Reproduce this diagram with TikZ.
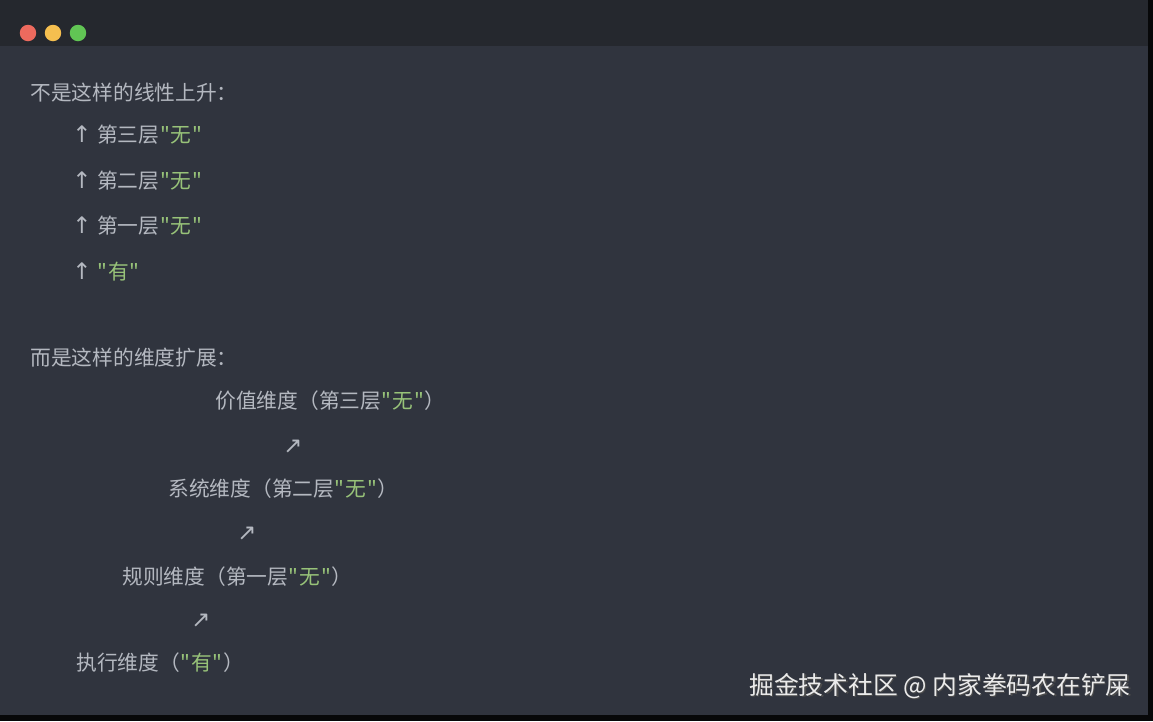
\documentclass[tikz,border=0pt]{standalone}
\usepackage{fontspec}
\newfontfamily\cjk{Noto Sans CJK SC}
\newfontfamily\symb{DejaVu Sans}
\usetikzlibrary{positioning}

\definecolor{barbg}{HTML}{25282E}
\definecolor{bodybg}{HTML}{30343E}
\definecolor{codegray}{HTML}{B4B8C0}
\definecolor{codegreen}{HTML}{98C379}
\definecolor{dotred}{HTML}{ED6A5E}
\definecolor{dotyellow}{HTML}{F5BF4F}
\definecolor{dotgreen}{HTML}{61C554}

\newcommand{\q}{\makebox[0.55em]{"}}
\newcommand{\str}[1]{\textcolor{codegreen}{\q#1\q}}
\newcommand{\up}{{\symb\fontsize{13pt}{15pt}\selectfont ↑}\hspace{0.27em}}

\tikzset{
  txt/.style={anchor=west, text=codegray, inner sep=0pt,
    font=\cjk\fontsize{11.8pt}{14pt}\selectfont},
  diag/.style={text=codegray, inner sep=0pt,
    font=\symb\fontsize{13pt}{15pt}\selectfont},
  winbtn/.style={circle, minimum size=0.33cm, inner sep=0pt}
}

\begin{document}
\begin{tikzpicture}[x=0.02cm, y=-0.02cm]
  % window
  \fill[black!85!bodybg] (0,0) rectangle (1153,721);
  \fill[bodybg] (0,0) rectangle (1148,715);
  \fill[barbg] (0,0) rectangle (1148,46);
  \useasboundingbox (0,0) rectangle (1153,721);

  \node[winbtn, fill=dotred]    (red)    at (28,33) {};
  \node[winbtn, fill=dotyellow] (yellow) at (53,33) {};
  \node[winbtn, fill=dotgreen]  (green)  at (78,33) {};

  % linear
  \node[txt] (title) at (30,93) {不是这样的线性上升：};
  \node[txt] (l3) at (72,135) {\up 第三层\str{无}};
  \node[txt] (l2) at (72,181) {\up 第二层\str{无}};
  \node[txt] (l1) at (72,226) {\up 第一层\str{无}};
  \node[txt] (l0) at (72,272) {\up \str{有}};

  % dimensions
  \node[txt] (title2) at (30,358) {而是这样的维度扩展：};
  \node[txt] (v3) at (215,401) {价值维度（第三层\str{无}）};
  \node[diag] (a3) at (293,447) {↗};
  \node[txt] (v2) at (168,489) {系统维度（第二层\str{无}）};
  \node[diag] (a2) at (247,534) {↗};
  \node[txt] (v1) at (122,577) {规则维度（第一层\str{无}）};
  \node[diag] (a1) at (201,621) {↗};
  \node[txt] (v0) at (76,663) {执行维度（\str{有}）};

  % watermark
  \node[anchor=east, text=black!70, inner sep=0pt,
    font=\cjk\fontsize{14.1pt}{16pt}\selectfont] at (1132.5,687.5) {掘金技术社区 @ 内家拳码农在铲屎};
  \node[anchor=east, text=white!92!black, inner sep=0pt,
    font=\cjk\fontsize{14.1pt}{16pt}\selectfont] (mark) at (1131,686) {掘金技术社区 @ 内家拳码农在铲屎};
\end{tikzpicture}
\end{document}
